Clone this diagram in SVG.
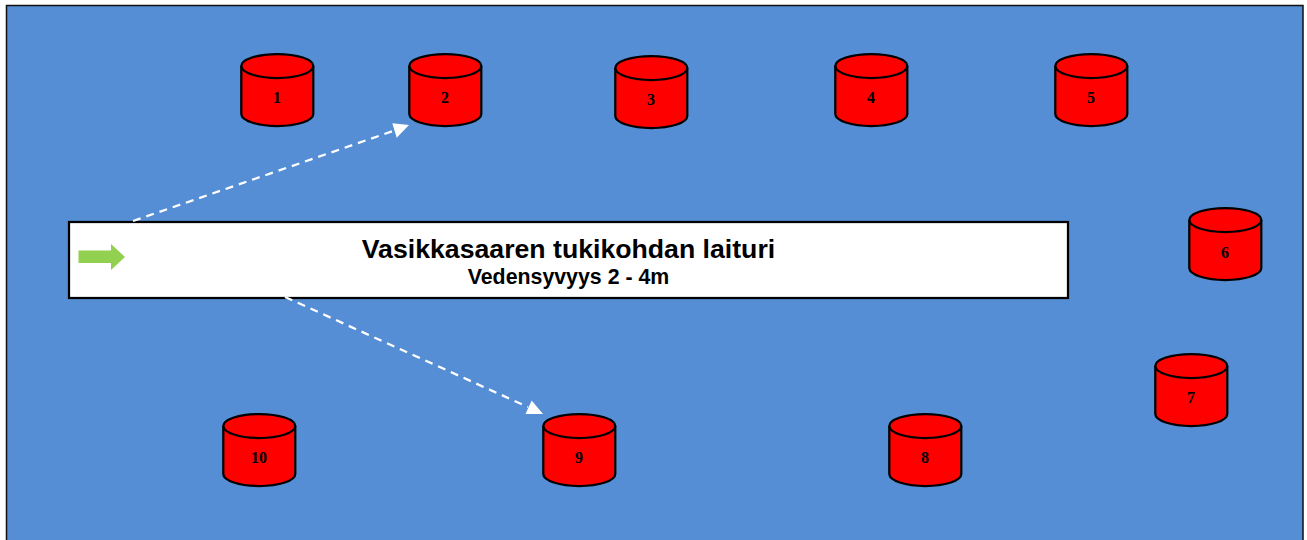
<svg xmlns="http://www.w3.org/2000/svg" width="1307" height="540" viewBox="0 0 1307 540">
  <style>
    .cyl { fill: #ff0000; stroke: #000; stroke-width: 2.250; }
    .num { font: bold 16px "Liberation Serif", serif; fill: #000; text-anchor: middle; }
    .conn { stroke: #fff; stroke-width: 2.250; stroke-dasharray: 8 6; fill: none; }
    .head { fill: #fff; }
    .t { font-family: "Liberation Sans", Arial, sans-serif; font-weight: bold; fill: #000; text-anchor: middle; }
  </style>
  <defs>
    <g id="cylinder">
      <path class="cyl" d="M0,12 A36,12 0 0 1 72,12 V60 A36,12 0 0 1 0,60 Z"/>
      <path class="cyl" style="fill:none" d="M0,12 A36,12 0 0 0 72,12"/>
    </g>
  </defs>
  <rect id="water" x="6.500" y="5.500" width="1296.500" height="540" fill="#558ed5" stroke="#111" stroke-width="1.500"/>
  <g id="pier">
    <rect x="69" y="222" width="999" height="76" fill="#fff" stroke="#000" stroke-width="2.250"/>
    <polygon points="78.500,250.500 111,250.500 111,244 125,257 111,270 111,263 78.500,263" fill="#92d050"/>
    <text class="t" x="568.500" y="258" font-size="26.670">Vasikkasaaren tukikohdan laituri</text>
    <text class="t" x="568.500" y="283.500" font-size="21.330">Vedensyvyys 2 - 4m</text>
  </g>
  <g id="connectors">
    <line class="conn" x1="133" y1="221" x2="396" y2="130"/>
    <polygon class="head" points="409,125 392.300,123.300 396.700,137.700"/>
    <line class="conn" x1="285" y1="297" x2="528" y2="407"/>
    <polygon class="head" points="543,414 525.500,414 531.700,400.500"/>
  </g>
  <g id="n1" transform="translate(241.300,54)"><use href="#cylinder"/><text class="num" x="35.700" y="49">1</text></g>
  <g id="n2" transform="translate(409.300,54)"><use href="#cylinder"/><text class="num" x="35.700" y="49">2</text></g>
  <g id="n3" transform="translate(615.300,56)"><use href="#cylinder"/><text class="num" x="35.700" y="49">3</text></g>
  <g id="n4" transform="translate(835.300,54)"><use href="#cylinder"/><text class="num" x="35.700" y="49">4</text></g>
  <g id="n5" transform="translate(1055.300,54)"><use href="#cylinder"/><text class="num" x="35.700" y="49">5</text></g>
  <g id="n6" transform="translate(1189.300,208)"><use href="#cylinder"/><text class="num" x="35.700" y="50">6</text></g>
  <g id="n7" transform="translate(1155.300,354)"><use href="#cylinder"/><text class="num" x="35.700" y="49">7</text></g>
  <g id="n8" transform="translate(889.300,414)"><use href="#cylinder"/><text class="num" x="35.700" y="49">8</text></g>
  <g id="n9" transform="translate(543.300,414)"><use href="#cylinder"/><text class="num" x="35.700" y="49">9</text></g>
  <g id="n10" transform="translate(223.300,414)"><use href="#cylinder"/><text class="num" x="35.700" y="49">10</text></g>
</svg>
